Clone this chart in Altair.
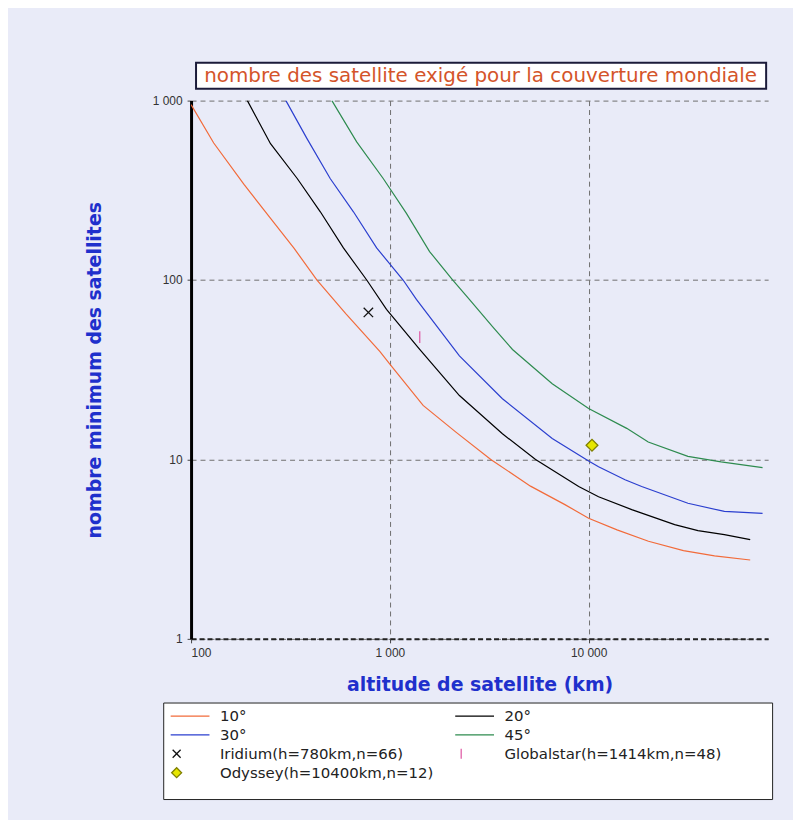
import altair as alt
import pandas as pd

# ---- data (altitude km, minimum number of satellites) ----
alt10 = [100, 130, 185, 250, 330, 430, 600, 890, 1000, 1470, 2150, 3220, 5100, 7600, 10000, 13900, 20000, 30000, 43000, 65000]
n10 = [950, 580, 340, 222, 150, 100, 65, 40, 34, 20, 14.2, 10, 7.1, 5.6, 4.7, 4.05, 3.5, 3.1, 2.9, 2.75]

alt20 = [192, 251, 342, 447, 584, 765, 962, 1413, 2239, 3685, 5410, 8913, 11220, 16480, 27100, 35500, 48200, 65000]
n20 = [1000, 575, 368, 240, 151, 100, 68.7, 41, 22.7, 13.9, 10, 7.06, 6.2, 5.25, 4.33, 4.01, 3.81, 3.57]

alt30 = [300, 383, 501, 656, 858, 1166, 1360, 2239, 3685, 6560, 10000, 11220, 15250, 18490, 31600, 48200, 75000]
n30 = [1000, 614, 368, 240, 151, 100, 78, 37.8, 21.8, 13.1, 9.8, 9.1, 7.7, 7.06, 5.7, 5.13, 5.0]

alt45 = [511, 681, 926, 1212, 1585, 2073, 2512, 3285, 4140, 6560, 10000, 15550, 19950, 31600, 46400, 75000]
n45 = [1000, 589, 368, 235, 144, 100, 78, 55, 41, 26.4, 19.2, 14.9, 12.5, 10.4, 9.7, 9.0]

labels = ["10°", "20°", "30°", "45°",
          "Iridium(h=780km,n=66)", "Globalstar(h=1414km,n=48)", "Odyssey(h=10400km,n=12)"]
line_colors = ["#F26B3A", "#000000", "#2B3FCF", "#2E8B4F"]
sat_alt = [780, 1414, 10400]
sat_n = [66, 48, 12]

x_ticks = [100, 1000, 10000]
y_ticks = [1, 10, 100, 1000]
title_text = "nombre des satellite exigé pour la couverture mondiale"

# ---- tables ----
rows = []
for lab, xs, ys in zip(labels[:4], [alt10, alt20, alt30, alt45], [n10, n20, n30, n45]):
    for i, (a, n) in enumerate(zip(xs, ys)):
        rows.append({"series": lab, "altitude": a, "n": n, "order": i})
curves = pd.DataFrame(rows)
sats = pd.DataFrame({"label": labels[4:], "altitude": sat_alt, "n": sat_n})
tb = pd.DataFrame({"t": [title_text]})

label_expr = "replace(format(datum.value, ','), ',', ' ')"
xscale = alt.Scale(type="log", domain=[100, 80000], nice=False)
yscale = alt.Scale(type="log", domain=[1, 1000], nice=False)

xaxis = alt.Axis(values=x_ticks, labelExpr=label_expr, title="altitude de satellite (km)",
                 grid=True, gridDash=[5, 4], gridColor="#6f6f6f", gridWidth=1,
                 domainColor="#222222", domainWidth=2, domainDash=[5, 3],
                 tickColor="#444444", tickSize=4,
                 labelFont="Liberation Sans", labelFontSize=12, labelColor="#333333", labelPadding=5,
                 titleFont="DejaVu Sans", titleFontSize=19, titleFontWeight="bold",
                 titleColor="#1F30CC", titlePadding=17)
yaxis = alt.Axis(values=y_ticks, labelExpr=label_expr, title="nombre minimum des satellites",
                 grid=True, gridDash=[5, 4], gridColor="#6f6f6f", gridWidth=1,
                 domainColor="#000000", domainWidth=3,
                 tickColor="#444444", tickSize=4,
                 labelFont="Liberation Sans", labelFontSize=12, labelColor="#333333", labelPadding=5,
                 titleFont="DejaVu Sans", titleFontSize=19, titleFontWeight="bold",
                 titleColor="#1F30CC", titlePadding=48)

shapes = ["M-1.2,0L6.6,0"] * 4 + ["M-0.8,-0.8L0.8,0.8M-0.8,0.8L0.8,-0.8", "M0,-1L0,1", "diamond"]
fills = ["transparent"] * 6 + ["#E6E600"]
strokes = line_colors + ["#111111", "#E060A8", "#808000"]

legend = alt.Legend(title="M" * 90, titleOrient="bottom", titleFontSize=8, titleOpacity=0,
                    titlePadding=4, titleLimit=2000,
                    orient="none", legendX=-28, legendY=605, columns=2, direction="horizontal",
                    gridAlign="all", columnPadding=14, rowPadding=2, symbolSize=100,
                    symbolStrokeWidth=1.3,
                    labelOffset=36, labelFont="DejaVu Sans", labelFontSize=15, labelColor="#222222",
                    labelLimit=400, padding=6, fillColor="white", strokeColor="#222222")

lines = alt.Chart(curves).mark_line(strokeWidth=1.2, clip=True).encode(
    x=alt.X("altitude:Q", scale=xscale, axis=xaxis),
    y=alt.Y("n:Q", scale=yscale, axis=yaxis),
    color=alt.Color("series:N", scale=alt.Scale(domain=labels[:4], range=line_colors), legend=None),
    order="order:Q",
)

points = alt.Chart(sats).mark_point(size=140, strokeWidth=1.3, opacity=1).encode(
    x=alt.X("altitude:Q", scale=xscale),
    y=alt.Y("n:Q", scale=yscale),
    shape=alt.Shape("label:N", scale=alt.Scale(domain=labels, range=shapes), legend=legend),
    fill=alt.Fill("label:N", scale=alt.Scale(domain=labels, range=fills), legend=legend),
    stroke=alt.Stroke("label:N", scale=alt.Scale(domain=labels, range=strokes), legend=legend),
)

box = alt.Chart(tb).mark_rect(fill="white", stroke="#1b1b3a", strokeWidth=2).encode(
    x=alt.value(5), x2=alt.value(578), y=alt.value(-38), y2=alt.value(-12))
txt = alt.Chart(tb).mark_text(font="DejaVu Sans", fontSize=20, color="#D4542A").encode(
    x=alt.value(291), y=alt.value(-25), text="t:N")

chart = alt.layer(lines, points, box, txt).properties(
    width=580, height=541,
    padding={"left": 77, "top": 52, "right": 20, "bottom": 18},
    background="#E9EBF8",
).configure_view(stroke=None)

chart.save("out.html", embed_options={"renderer": "svg", "actions": False})
